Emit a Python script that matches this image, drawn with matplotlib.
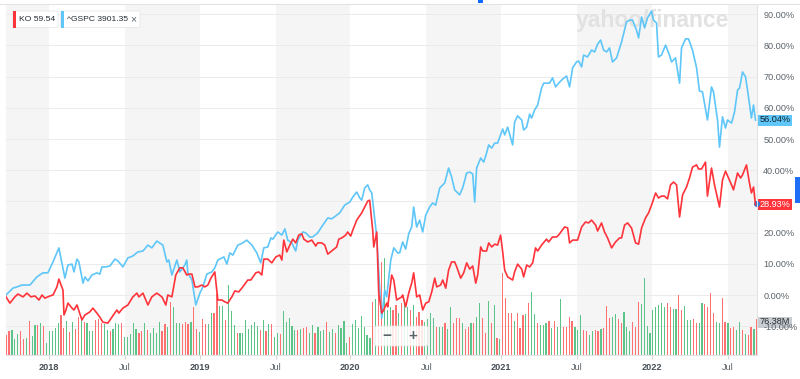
import matplotlib
matplotlib.use("Agg")
import matplotlib.pyplot as plt
from matplotlib.patches import FancyBboxPatch, Rectangle, Ellipse
from matplotlib.lines import Line2D

plt.rcParams['font.family'] = ['Liberation Sans', 'DejaVu Sans']

# ---------------- data (decimal years, % change) ----------------
gspc_t = [2017.715, 2017.761, 2017.788, 2017.821, 2017.874, 2017.920, 2017.960, 2017.993, 2018.027, 2018.066,
          2018.106, 2018.126, 2018.153, 2018.166, 2018.186, 2018.199, 2018.226, 2018.239, 2018.259, 2018.285,
          2018.318, 2018.338, 2018.352, 2018.378, 2018.405, 2018.438, 2018.458, 2018.491, 2018.524, 2018.557,
          2018.590, 2018.624, 2018.657, 2018.683, 2018.716, 2018.756, 2018.783, 2018.796, 2018.816, 2018.849,
          2018.869, 2018.902, 2018.915, 2018.922, 2018.949, 2018.975, 2019.002, 2019.022, 2019.048, 2019.081,
          2019.101, 2019.121, 2019.161, 2019.181, 2019.201, 2019.221, 2019.254, 2019.287, 2019.313, 2019.347,
          2019.380, 2019.406, 2019.426, 2019.453, 2019.473, 2019.486, 2019.519, 2019.546, 2019.566, 2019.585,
          2019.612, 2019.638, 2019.652, 2019.685, 2019.705, 2019.731, 2019.751, 2019.784, 2019.818, 2019.851,
          2019.877, 2019.910, 2019.930, 2019.963, 2019.997, 2020.017, 2020.043, 2020.063, 2020.076, 2020.096,
          2020.116, 2020.129, 2020.143, 2020.176, 2020.196, 2020.209, 2020.229, 2020.242, 2020.269, 2020.289,
          2020.315, 2020.328, 2020.348, 2020.368, 2020.388, 2020.408, 2020.421, 2020.441, 2020.461, 2020.481,
          2020.501, 2020.527, 2020.547, 2020.567, 2020.594, 2020.627, 2020.653, 2020.673, 2020.693, 2020.726,
          2020.746, 2020.773, 2020.793, 2020.813, 2020.826, 2020.839, 2020.866, 2020.886, 2020.905, 2020.919,
          2020.939, 2020.959, 2020.978, 2021.012, 2021.025, 2021.045, 2021.078, 2021.091, 2021.111, 2021.138,
          2021.151, 2021.171, 2021.191, 2021.204, 2021.224, 2021.244, 2021.270, 2021.284, 2021.323, 2021.343,
          2021.363, 2021.383, 2021.410, 2021.436, 2021.456, 2021.476, 2021.502, 2021.516, 2021.536, 2021.549,
          2021.575, 2021.602, 2021.622, 2021.642, 2021.662, 2021.682, 2021.702, 2021.721, 2021.741, 2021.768,
          2021.801, 2021.834, 2021.854, 2021.874, 2021.900, 2021.914, 2021.934, 2021.954, 2021.973, 2022.000,
          2022.013, 2022.033, 2022.046, 2022.066, 2022.093, 2022.119, 2022.133, 2022.159, 2022.186, 2022.199,
          2022.226, 2022.245, 2022.272, 2022.299, 2022.318, 2022.338, 2022.371, 2022.398, 2022.411, 2022.438,
          2022.451, 2022.471, 2022.491, 2022.504, 2022.531, 2022.551, 2022.571, 2022.584, 2022.604, 2022.624,
          2022.637, 2022.663, 2022.677, 2022.690]
gspc_pct = [0.0, 2.2, 2.6, 3.2, 3.2, 5.8, 7.1, 7.1, 10.6, 15.1,
            5.4, 9.6, 9.9, 7.4, 11.5, 10.6, 3.8, 5.8, 4.5, 6.4,
            7.1, 6.7, 9.0, 9.0, 9.3, 11.5, 10.9, 9.0, 11.9, 12.5,
            13.8, 14.1, 16.0, 15.1, 17.3, 16.0, 10.6, 11.2, 6.4, 11.2,
            7.4, 9.6, 11.2, 7.1, 4.8, -3.2, 0.6, 2.6, 6.7, 7.4,
            8.7, 11.2, 12.2, 9.9, 13.5, 12.8, 16.0, 16.7, 17.6, 16.0,
            13.5, 10.3, 15.1, 15.4, 18.3, 17.9, 20.2, 19.2, 21.2, 17.6,
            16.7, 14.1, 17.6, 20.2, 19.9, 18.6, 18.6, 19.9, 22.4, 24.7,
            24.4, 25.6, 26.3, 28.8, 29.8, 31.4, 33.0, 31.1, 30.4, 34.3,
            35.3, 33.7, 32.7, 18.6, 1.6, -7.4, 1.6, -0.6, 11.2, 15.1,
            13.5, 13.5, 17.0, 14.7, 19.6, 21.8, 28.2, 21.8, 24.0, 20.2,
            25.6, 28.2, 29.5, 28.8, 34.3, 35.9, 40.7, 37.8, 33.7, 32.1,
            34.3, 39.1, 39.4, 38.8, 29.8, 40.7, 43.9, 42.6, 45.5, 48.1,
            47.1, 48.7, 48.7, 53.2, 51.3, 53.8, 48.1, 55.4, 57.4, 56.1,
            52.9, 53.8, 58.0, 56.7, 59.3, 60.9, 66.3, 67.9, 67.9, 69.6,
            66.7, 67.9, 69.2, 70.2, 66.7, 72.8, 74.7, 75.0, 73.1, 76.9,
            76.3, 78.5, 77.9, 80.4, 81.7, 78.5, 77.9, 79.2, 74.7, 76.0,
            81.1, 87.5, 88.1, 88.1, 84.9, 82.4, 89.1, 85.6, 88.8, 91.0,
            88.1, 87.2, 76.3, 76.9, 80.1, 76.9, 74.7, 76.0, 67.9, 79.2,
            82.1, 82.1, 78.5, 72.8, 65.4, 65.1, 56.1, 66.7, 65.1, 56.1,
            47.4, 57.1, 53.5, 56.1, 55.1, 58.7, 65.7, 66.3, 71.5, 69.9,
            65.7, 56.7, 60.9, 56.04]

ko_t = [2017.715, 2017.741, 2017.774, 2017.794, 2017.828, 2017.854, 2017.881, 2017.907, 2017.934, 2017.954,
        2017.973, 2018.007, 2018.027, 2018.053, 2018.066, 2018.093, 2018.100, 2018.113, 2018.126, 2018.153,
        2018.166, 2018.186, 2018.219, 2018.239, 2018.272, 2018.292, 2018.318, 2018.338, 2018.358, 2018.391,
        2018.418, 2018.451, 2018.464, 2018.491, 2018.524, 2018.557, 2018.584, 2018.597, 2018.624, 2018.657,
        2018.683, 2018.716, 2018.750, 2018.776, 2018.789, 2018.816, 2018.842, 2018.869, 2018.889, 2018.915,
        2018.929, 2018.949, 2018.969, 2018.988, 2019.015, 2019.035, 2019.055, 2019.075, 2019.101, 2019.121,
        2019.148, 2019.168, 2019.187, 2019.214, 2019.234, 2019.260, 2019.287, 2019.320, 2019.340, 2019.373,
        2019.393, 2019.413, 2019.426, 2019.453, 2019.479, 2019.506, 2019.532, 2019.546, 2019.559, 2019.579,
        2019.599, 2019.619, 2019.638, 2019.658, 2019.678, 2019.692, 2019.718, 2019.745, 2019.771, 2019.784,
        2019.811, 2019.831, 2019.851, 2019.877, 2019.910, 2019.924, 2019.944, 2019.970, 2019.983, 2020.003,
        2020.017, 2020.043, 2020.076, 2020.096, 2020.116, 2020.129, 2020.149, 2020.156, 2020.176, 2020.189,
        2020.209, 2020.222, 2020.242, 2020.249, 2020.275, 2020.289, 2020.308, 2020.342, 2020.348, 2020.368,
        2020.388, 2020.408, 2020.421, 2020.441, 2020.461, 2020.481, 2020.501, 2020.521, 2020.541, 2020.561,
        2020.574, 2020.600, 2020.614, 2020.634, 2020.653, 2020.673, 2020.693, 2020.707, 2020.733, 2020.753,
        2020.773, 2020.793, 2020.813, 2020.833, 2020.846, 2020.866, 2020.879, 2020.905, 2020.919, 2020.939,
        2020.959, 2020.978, 2020.998, 2021.012, 2021.025, 2021.045, 2021.078, 2021.091, 2021.111, 2021.138,
        2021.151, 2021.171, 2021.191, 2021.211, 2021.230, 2021.244, 2021.270, 2021.303, 2021.317, 2021.343,
        2021.370, 2021.383, 2021.423, 2021.443, 2021.456, 2021.476, 2021.509, 2021.536, 2021.562, 2021.582,
        2021.602, 2021.629, 2021.642, 2021.668, 2021.688, 2021.708, 2021.735, 2021.761, 2021.788, 2021.801,
        2021.821, 2021.841, 2021.867, 2021.894, 2021.914, 2021.934, 2021.960, 2021.980, 2022.000, 2022.027,
        2022.046, 2022.066, 2022.086, 2022.106, 2022.126, 2022.146, 2022.166, 2022.186, 2022.206, 2022.232,
        2022.252, 2022.272, 2022.299, 2022.312, 2022.332, 2022.358, 2022.371, 2022.398, 2022.418, 2022.451,
        2022.471, 2022.491, 2022.511, 2022.531, 2022.544, 2022.571, 2022.591, 2022.604, 2022.630, 2022.650,
        2022.663, 2022.677, 2022.690]
ko_pct = [-0.6, -2.6, -0.6, 0.3, -0.6, 0.6, -0.6, -0.3, -1.6, 0.0,
          -1.0, -0.3, 0.0, 2.6, 5.1, 1.6, -6.4, -4.8, -2.6, -4.2,
          -4.8, -3.2, -8.0, -6.4, -5.4, -4.2, -5.8, -7.1, -8.7, -9.0,
          -7.1, -4.8, -5.8, -4.2, -3.2, -0.6, 0.6, -0.6, 0.6, -3.2,
          -0.6, 0.6, -0.6, -3.2, 0.0, -0.6, 6.4, 8.7, 8.7, 6.4,
          6.7, 6.7, 2.6, 2.6, 3.2, 2.6, 3.2, 5.4, 7.4, -1.6,
          -1.6, -2.2, -2.6, -0.6, 1.3, 1.0, 2.6, 4.8, 4.8, 7.1,
          7.4, 6.4, 11.5, 11.5, 10.3, 12.2, 12.8, 11.2, 17.6, 13.8,
          16.0, 17.9, 16.7, 19.2, 19.6, 17.9, 17.0, 17.6, 15.7, 16.7,
          16.7, 16.0, 13.1, 14.1, 15.4, 17.9, 18.3, 19.2, 20.2, 18.9,
          20.8, 24.0, 26.3, 28.2, 30.1, 30.4, 20.8, 15.4, 20.2, 0.6,
          -5.8, -4.8, -2.6, -3.8, 6.4, 4.8, -1.6, -0.6, 0.0, -3.8,
          0.6, 3.8, 7.1, -0.6, 0.0, -4.8, -2.6, -2.2, 1.0, 5.4,
          2.6, 3.2, 4.8, 2.2, 8.0, 10.6, 10.6, 9.0, 5.4, 7.1,
          10.3, 8.3, 9.3, 3.8, 6.4, 15.4, 14.1, 14.1, 16.7, 15.4,
          16.3, 16.0, 19.2, 13.8, 8.0, 5.8, 4.8, 7.4, 9.9, 8.3,
          5.8, 9.6, 9.0, 10.3, 15.1, 14.1, 16.0, 17.9, 17.0, 18.6,
          18.6, 19.2, 21.8, 21.5, 16.7, 17.6, 17.6, 21.8, 23.4, 23.1,
          24.0, 22.4, 20.5, 23.1, 20.2, 18.3, 15.1, 17.0, 18.3, 18.3,
          22.4, 23.1, 21.5, 16.7, 16.3, 21.5, 24.7, 26.3, 28.8, 32.7,
          31.1, 31.7, 31.7, 30.8, 35.3, 36.2, 35.3, 25.0, 32.1, 34.6,
          37.5, 41.0, 41.7, 40.4, 40.4, 42.6, 31.7, 40.7, 35.3, 28.2,
          36.9, 39.7, 37.5, 35.3, 33.7, 39.1, 37.5, 38.5, 41.7, 35.9,
          32.7, 34.6, 28.93]

# weekly KO volume (millions), first week starting 2017.716, and up/down flag
vol_start = 2017.716
vol_m = [42, 50, 53, 34, 44, 50, 34, 36, 71, 40,
         63, 63, 67, 61, 25, 50, 50, 57, 67, 84,
         57, 71, 48, 69, 55, 80, 74, 69, 67, 50,
         50, 74, 76, 67, 65, 53, 50, 55, 67, 65,
         67, 38, 38, 44, 67, 55, 46, 50, 67, 53,
         46, 57, 46, 69, 50, 65, 59, 111, 101, 67,
         67, 65, 69, 65, 69, 101, 55, 48, 76, 65,
         65, 88, 88, 128, 103, 103, 74, 147, 92, 63,
         46, 46, 46, 74, 55, 63, 69, 61, 53, 74,
         50, 65, 65, 38, 46, 44, 92, 69, 78, 61,
         53, 53, 55, 57, 59, 46, 63, 46, 59, 50,
         53, 69, 48, 55, 46, 63, 57, 71, 25, 38,
         65, 74, 57, 82, 59, 42, 36, 111, 118, 126,
         195, 204, 95, 101, 95, 105, 88, 109, 116, 101,
         95, 105, 80, 90, 74, 69, 76, 88, 78, 59,
         59, 59, 67, 55, 101, 67, 78, 78, 67, 55,
         59, 67, 67, 80, 109, 78, 46, 113, 67, 105,
         36, 34, 172, 120, 88, 88, 71, 88, 57, 84,
         86, 109, 132, 86, 67, 63, 63, 67, 71, 57,
         71, 59, 118, 59, 59, 80, 71, 59, 53, 84,
         53, 50, 42, 50, 53, 50, 55, 57, 103, 78,
         80, 86, 76, 67, 90, 59, 50, 69, 59, 111,
         107, 162, 61, 46, 95, 101, 105, 109, 101, 109,
         101, 97, 97, 126, 95, 103, 74, 74, 76, 67,
         67, 109, 107, 101, 130, 88, 69, 67, 120, 69,
         67, 57, 59, 53, 69, 53, 44, 42, 59, 55, 76.38]
vol_dir = list("RRGGGRRGRG" "GRGRGGGGGR" "RGRGRRGRGG" "GRRRGGRGGG" "RGGGGGRRGR"
               "GGGGRRGRGG" "GRRRGRRGRR" "GGRRGGRGGG" "RGGGGGGGRG" "RGRGGRGGGG"
               "GRGRRGGRGG" "GRGGRGGGGR" "GGGGGGGRGR" "RGGGRRGRGG" "RGRRRGGGGR"
               "GGRGGRRRGR" "RGRGGRRGRG" "RGRRRRGRRR" "GRGGRGGGRG" "RGGRRRRGGG"
               "RRGGRRGRRR" "GGRRGGGRRR" "GGGGGGGGGR" "RGGRRGGGRR" "GGRRRRGGRR"
               "GRRGGRGRRGR")

tick_pos = [2018.0, 2018.505, 2019.0, 2019.505, 2020.0, 2020.505, 2021.0, 2021.505, 2022.0, 2022.505]
tick_lab = ["2018", "Jul", "2019", "Jul", "2020", "Jul", "2021", "Jul", "2022", "Jul"]
y_ticks = [-10, 0, 10, 20, 30, 40, 50, 60, 70, 80, 90]

ko_price, gspc_price = 59.54, 3901.35
ko_chg, gspc_chg = 28.93, 56.04
vol_last = 76.38

# ---------------- styling ----------------
KO_C = "#ff333a"
SP_C = "#5ec6f8"
UP_C = "#5cc489"
DN_C = "#ff7070"
BAND_C = "#f5f5f5"
TXT = "#5b636a"

W, H = 800, 379
fig = plt.figure(figsize=(W / 100, H / 100), dpi=100)
fig.patch.set_facecolor("white")

def fx(px):
    return px / W

def fy(py):
    return 1 - py / H

pos = [fx(6), fy(355), fx(757) - fx(6), fy(5) - fy(355)]
xlim = (2017.715, 2022.700)

axv = fig.add_axes(pos)
axv.set_zorder(0)
ax = fig.add_axes(pos, sharex=axv)
ax.set_zorder(1)
ax.patch.set_visible(False)

# alternating half-year bands
edges = [xlim[0]] + tick_pos + [xlim[1]]
for i in range(len(edges) - 1):
    if i % 2 == 0:
        axv.axvspan(edges[i], edges[i + 1], color=BAND_C, lw=0, zorder=0)

ax.set_xlim(*xlim)
ax.set_ylim(-19.23, 92.95)

# horizontal grid (drawn under the volume bars)
for v in y_ticks:
    axv.plot([0, 1], [v, v], transform=ax.get_yaxis_transform(), color="#ebebeb",
             lw=0.7, zorder=0.5)

# volume bars
wk = 7 / 365.25
vx = [vol_start + i * wk for i in range(len(vol_m))]
vcol = [UP_C if d == "G" else DN_C for d in vol_dir]
axv.bar(vx, vol_m, width=0.0078, color=vcol, linewidth=0, zorder=1)
axv.set_ylim(0, 735)
axv.set_xlim(*xlim)
axv.axis("off")

# lines
ax.plot(gspc_t, gspc_pct, color=SP_C, lw=1.2, zorder=3, solid_joinstyle="round")
ax.plot(ko_t, ko_pct, color=KO_C, lw=1.2, zorder=4, solid_joinstyle="round")

ax.set_yticks(y_ticks)
# the 30% label sits fully hidden behind the KO value chip in the original
ax.set_yticklabels(["" if v == 30 else f"{v:.2f}%" for v in y_ticks])
ax.yaxis.tick_right()
ax.tick_params(axis="y", length=0, pad=4.5, labelsize=6.6, labelcolor=TXT)

ax.set_xticks(tick_pos)
ax.set_xticklabels(tick_lab)
ax.tick_params(axis="x", length=3, color="#d8d8d8", pad=3.0, labelsize=6.6, labelcolor=TXT)
for lab in ax.get_xticklabels():
    if lab.get_text() != "Jul":
        lab.set_fontweight("bold")
        lab.set_color("#464e56")

for s in ["top", "left"]:
    ax.spines[s].set_visible(False)
ax.spines["right"].set_color("#e3e3e3")
ax.spines["bottom"].set_color("#e3e3e3")
ax.spines["right"].set_linewidth(0.8)
ax.spines["bottom"].set_linewidth(0.8)

# watermark
ax.text(fx(576), fy(21), "yahoo/finance", transform=fig.transFigure, fontsize=16.5,
        fontweight="bold", color="#e2e2e2", ha="left", va="center", zorder=0.8)

# top border line
fig.add_artist(Line2D([0, 1], [fy(4), fy(4)], color="#e0e4e9", lw=0.8))
fig.add_artist(Rectangle((fx(478), fy(3)), fx(5), 3 / H, color="#0f69ff", lw=0))

# legend chips
def chip(x0, x1, color, text):
    fig.add_artist(FancyBboxPatch((fx(x0), fy(27.5)), fx(x1 - x0), 16.5 / H,
                                  boxstyle="round,pad=0,rounding_size=0.003",
                                  fc="white", ec="#e6e8eb", lw=0.6))
    fig.add_artist(Rectangle((fx(x0), fy(27.5)), fx(3), 16.5 / H, color=color, lw=0))
    fig.text(fx(x0 + 6.5), fy(19.5), text, fontsize=6.1, color="#232a31", va="center", ha="left")

chip(12.5, 58, KO_C, f"KO {ko_price:.2f}")
chip(60.5, 140, SP_C, f"^GSPC {gspc_price:.2f}")
fig.text(fx(133.5), fy(19.5), "\u00d7", fontsize=7.5, color=TXT, va="center", ha="center")

# right-side value chips
def value_chip(y, text, fc, tc):
    fig.add_artist(Rectangle((fx(758), fy(y + 5.5)), fx(34), 11 / H, color=fc, lw=0))
    fig.text(fx(775), fy(y), text, fontsize=6.6, color=tc, ha="center", va="center")

value_chip(120, f"{gspc_chg:.2f}%", SP_C, "#14212b")
value_chip(204, f"{ko_chg:.2f}%", KO_C, "white")
value_chip(322, f"{vol_last:.2f}M", "#c9cdd1", "#232a31")
fig.add_artist(Ellipse((fx(757), fy(204)), 6 / W, 6 / H, color="#1e7be6", lw=0))
fig.add_artist(Rectangle((fx(795), fy(203)), fx(5), 26 / H, color="#1e6ff5", lw=0))

# zoom control
fig.add_artist(FancyBboxPatch((fx(374), fy(346)), fx(54), 20 / H,
                              boxstyle="round,pad=0,rounding_size=0.004",
                              fc="white", ec="#e4e4e4", lw=0.6, alpha=0.85))
fig.text(fx(387), fy(336), "\u2212", fontsize=11, color=TXT, ha="center", va="center", fontweight="bold")
fig.text(fx(413), fy(336), "+", fontsize=11, color=TXT, ha="center", va="center", fontweight="bold")

fig.savefig("out.png", dpi=100, facecolor="white")
